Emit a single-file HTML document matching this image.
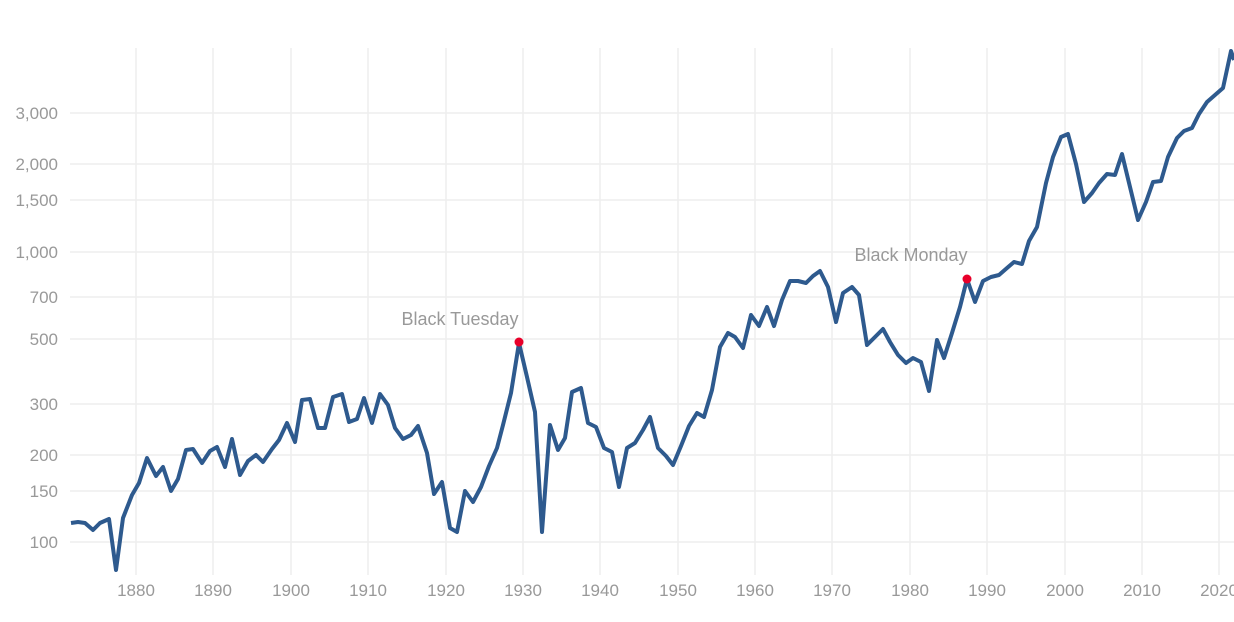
<!DOCTYPE html>
<html><head><meta charset="utf-8"><style>
html,body{margin:0;padding:0;background:#fff;}
svg{display:block;font-family:"Liberation Sans",sans-serif;}
</style></head><body>
<svg width="1234" height="622" viewBox="0 0 1234 622">
<g stroke="#eeeeee" stroke-width="1.5">
<line x1="70" x2="1234" y1="113" y2="113"/><line x1="70" x2="1234" y1="164" y2="164"/>
<line x1="70" x2="1234" y1="200" y2="200"/><line x1="70" x2="1234" y1="252" y2="252"/>
<line x1="70" x2="1234" y1="297" y2="297"/><line x1="70" x2="1234" y1="339" y2="339"/>
<line x1="70" x2="1234" y1="404" y2="404"/><line x1="70" x2="1234" y1="455" y2="455"/>
<line x1="70" x2="1234" y1="491" y2="491"/><line x1="70" x2="1234" y1="542" y2="542"/>
<line x1="136" x2="136" y1="48" y2="575"/><line x1="213" x2="213" y1="48" y2="575"/>
<line x1="291" x2="291" y1="48" y2="575"/><line x1="368" x2="368" y1="48" y2="575"/>
<line x1="446" x2="446" y1="48" y2="575"/><line x1="523" x2="523" y1="48" y2="575"/>
<line x1="600" x2="600" y1="48" y2="575"/><line x1="678" x2="678" y1="48" y2="575"/>
<line x1="755" x2="755" y1="48" y2="575"/><line x1="832" x2="832" y1="48" y2="575"/>
<line x1="910" x2="910" y1="48" y2="575"/><line x1="987" x2="987" y1="48" y2="575"/>
<line x1="1065" x2="1065" y1="48" y2="575"/><line x1="1142" x2="1142" y1="48" y2="575"/>
<line x1="1219" x2="1219" y1="48" y2="575"/>
</g>
<g fill="#999" font-size="17" text-anchor="end">
<text x="58" y="119">3,000</text><text x="58" y="170">2,000</text><text x="58" y="206">1,500</text>
<text x="58" y="258">1,000</text><text x="58" y="303">700</text><text x="58" y="345">500</text>
<text x="58" y="410">300</text><text x="58" y="461">200</text><text x="58" y="497">150</text>
<text x="58" y="548">100</text>
</g>
<g fill="#999" font-size="17" text-anchor="middle">
<text x="136" y="596">1880</text><text x="213" y="596">1890</text><text x="291" y="596">1900</text>
<text x="368" y="596">1910</text><text x="446" y="596">1920</text><text x="523" y="596">1930</text>
<text x="600" y="596">1940</text><text x="678" y="596">1950</text><text x="755" y="596">1960</text>
<text x="832" y="596">1970</text><text x="910" y="596">1980</text><text x="987" y="596">1990</text>
<text x="1065" y="596">2000</text><text x="1142" y="596">2010</text><text x="1219" y="596">2020</text>
</g>
<polyline fill="none" stroke="#2e5a8e" stroke-width="4" stroke-linejoin="round" points="71,523 78,522 85,523 93,530 100,523 109,519 116,570 123,518 132,495 139,483 147,458 156,476 163,467 171,491 178,479 186,450 193,449 202,463 210,451 217,447 225,467 232,439 240,475 248,461 256,455 263,462 272,449 279,440 287,423 295,442 302,400 310,399 318,428 325,428 333,397 342,394 349,422 357,419 364,398 372,423 380,394 388,405 395,428 403,439 411,435 418,426 427,453 434,494 442,482 450,528 457,532 465,491 473,502 481,487 489,466 497,448 503,425 511,393 519,343 527,377 535,412 542,532 550,425 558,450 565,438 572,392 581,388 588,423 596,427 604,448 612,452 619,487 627,448 635,443 643,430 650,417 658,448 666,456 673,465 681,446 689,426 697,413 704,417 712,390 720,347 728,333 735,337 743,348 751,315 759,326 767,307 774,326 782,300 790,281 798,281 806,283 813,276 820,271 828,287 836,322 843,293 852,287 859,295 867,345 875,337 883,329 890,342 898,355 906,363 913,358 921,362 929,391 937,340 944,358 952,333 960,307 967,279 975,302 983,281 991,277 999,275 1007,268 1014,262 1022,264 1029,241 1037,227 1046,183 1053,157 1061,137 1068,134 1076,164 1084,202 1092,193 1099,183 1107,174 1115,175 1122,154 1130,187 1138,220 1146,202 1153,182 1161,181 1168,157 1177,138 1184,131 1192,128 1199,114 1207,102 1215,95 1223,88 1231,51 1234,60"/>
<circle cx="519" cy="342" r="4.5" fill="#e8002a"/>
<circle cx="967" cy="279" r="4.5" fill="#e8002a"/>
<text x="460" y="325" fill="#999" font-size="18" text-anchor="middle">Black Tuesday</text>
<text x="911" y="261" fill="#999" font-size="18" text-anchor="middle">Black Monday</text>
</svg>
</body></html>
